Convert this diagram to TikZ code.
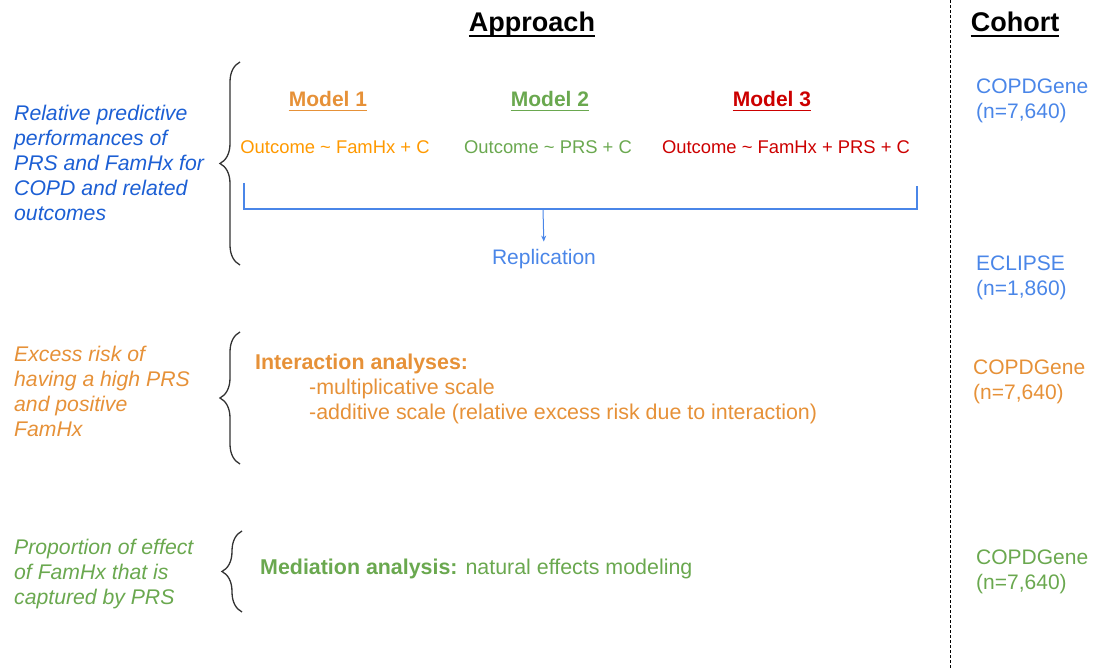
\documentclass[tikz,border=0pt]{standalone}
\usepackage{fontspec}
\setmainfont{Liberation Sans}
\usetikzlibrary{decorations.pathreplacing,arrows.meta}
\definecolor{dblue}{HTML}{1C5FD4}
\definecolor{lblue}{HTML}{4A86E8}
\definecolor{dorange}{HTML}{E69138}
\definecolor{borange}{HTML}{FF9900}
\definecolor{lgreen}{HTML}{6AA84F}
\definecolor{dred}{HTML}{CC0000}
\definecolor{bracegray}{HTML}{333333}
\newcommand{\fs}[2]{\fontsize{#1}{#2}\selectfont}
\newcommand{\lines}[1]{\begin{tabular}[t]{@{}l@{}}#1\end{tabular}}
\begin{document}
\begin{tikzpicture}[x=1pt,y=-1pt,
  txt/.style={inner sep=0pt, anchor=base west},
  ctxt/.style={inner sep=0pt, anchor=base},
  lab/.style={txt, font=\fs{21.2}{25}\itshape},
  title/.style={ctxt, font=\fs{27}{30}\bfseries},
  model/.style={ctxt, font=\fs{21}{25}\bfseries},
  eq/.style={ctxt, font=\fs{18.4}{22}},
  cohort/.style={txt, font=\fs{21}{25}},
  body/.style={txt, font=\fs{21.4}{25}},
  bracestyle/.style={draw=bracegray, line width=1.3pt, decorate, decoration={brace, amplitude=20pt}},
  uline/.style={line width=#1},
]
\useasboundingbox (0,0) rectangle (1093,668);

% titles
\node[title] (appr) at (532,32) {Approach};
\draw[uline=2pt] ([yshift=-4pt]appr.base west) -- ([yshift=-4pt]appr.base east);
\node[title] (coh) at (1015,32) {Cohort};
\draw[uline=2pt] ([yshift=-4pt]coh.base west) -- ([yshift=-4pt]coh.base east);

% dashed separator
\coordinate (sepT) at (950,0);
\coordinate (sepB) at (950,668);
\draw[line width=0.9pt, dash pattern=on 3pt off 2pt] (sepT) -- (sepB);

% ---------- block 1 ----------
\node[lab, text=dblue] (lab1) at (14,121) {\lines{Relative predictive\\performances of\\PRS and FamHx for\\COPD and related\\outcomes}};
\coordinate (b1b) at (240,265);
\coordinate (b1t) at (240,62);
\draw[bracestyle] (b1b) -- (b1t);

\node[model, text=dorange] (m1) at (328,107) {Model 1};
\draw[uline=1.5pt, dorange] ([yshift=-3.5pt]m1.base west) -- ([yshift=-3.5pt]m1.base east);
\node[model, text=lgreen] (m2) at (550,107) {Model 2};
\draw[uline=1.5pt, lgreen] ([yshift=-3.5pt]m2.base west) -- ([yshift=-3.5pt]m2.base east);
\node[model, text=dred] (m3) at (772,107) {Model 3};
\draw[uline=1.5pt, dred] ([yshift=-3.5pt]m3.base west) -- ([yshift=-3.5pt]m3.base east);

\node[eq, text=borange] (o1) at (335,154) {Outcome \textasciitilde\ FamHx + C};
\node[eq, text=lgreen] (o2) at (548,154) {Outcome \textasciitilde\ PRS + C};
\node[eq, text=dred] (o3) at (786,154) {Outcome \textasciitilde\ FamHx + PRS + C};

\coordinate (bkl) at (244,183);
\coordinate (bklb) at (244,209);
\coordinate (bkrb) at (917,209);
\coordinate (bkr) at (917,186);
\coordinate (bkm) at (543,209);
\draw[lblue, line width=1.2pt] (bkl) -- (bklb) -- (bkrb) -- (bkr);
\node[ctxt, font=\fs{21}{25}, text=lblue] (rep) at (544,265) {Replication};
\draw[lblue, line width=1pt, -{Stealth[length=6pt,width=5pt]}, shorten >=8pt] (bkm) -- (rep.north);

\node[cohort, text=lblue] (c1) at (976,94) {\lines{COPDGene\\(n=7,640)}};
\node[cohort, text=lblue] (c2) at (976,271) {\lines{ECLIPSE\\(n=1,860)}};

% ---------- block 2 ----------
\node[lab, text=dorange] (lab2) at (14,362) {\lines{Excess risk of\\having a high PRS\\and positive\\FamHx}};
\coordinate (b2b) at (240,464);
\coordinate (b2t) at (240,332);
\draw[bracestyle] (b2b) -- (b2t);
\node[body, text=dorange] (int) at (255,370) {\lines{\textbf{Interaction analyses:}\\\hspace{54pt}-multiplicative scale\\\hspace{54pt}-additive scale (relative excess risk due to interaction)}};
\node[cohort, text=dorange] (c3) at (973,374) {\lines{COPDGene\\(n=7,640)}};

% ---------- block 3 ----------
\node[lab, text=lgreen] (lab3) at (14,554) {\lines{Proportion of effect\\of FamHx that is\\captured by PRS}};
\coordinate (b3b) at (242,612);
\coordinate (b3t) at (242,531);
\draw[bracestyle] (b3b) -- (b3t);
\node[body, text=lgreen] (med) at (260,574) {\textbf{Mediation analysis:} natural effects modeling};
\node[cohort, text=lgreen] (c4) at (976,564) {\lines{COPDGene\\(n=7,640)}};
\end{tikzpicture}
\end{document}
